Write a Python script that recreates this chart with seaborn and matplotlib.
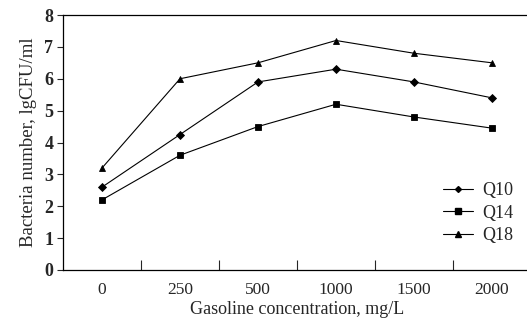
import numpy as np
import pandas as pd
import matplotlib
matplotlib.use("Agg")
import matplotlib.pyplot as plt
import seaborn as sns
from matplotlib.lines import Line2D

# data
concentrations = ["0", "250", "500", "1000", "1500", "2000"]
q10 = [2.6, 4.25, 5.9, 6.3, 5.9, 5.4]
q14 = [2.2, 3.6, 4.5, 5.2, 4.8, 4.45]
q18 = [3.2, 6.0, 6.5, 7.2, 6.8, 6.5]
series_names = ["Q10", "Q14", "Q18"]

df = pd.DataFrame({
    "conc": concentrations * 3,
    "value": q10 + q14 + q18,
    "strain": [s for s in series_names for _ in concentrations],
})

sns.set_style("ticks")
plt.rcParams["font.family"] = ["Liberation Serif", "DejaVu Serif"]

fig = plt.figure(figsize=(5.27, 3.22), dpi=100)
ax = fig.add_axes([63 / 527, 52 / 322, 468 / 527, 255 / 322])

markers = ["D", "s", "^"]
sizes = [4, 5.5, 5.5]
sns.pointplot(
    data=df, x="conc", y="value", hue="strain", order=concentrations,
    hue_order=series_names, palette=["black"] * 3, markers=markers,
    linestyles=["-"] * 3, linewidth=0.8, markersize=5, ax=ax, legend=False,
)
for line, ms in zip(ax.lines, sizes):
    line.set_markersize(ms)

ax.set_xlim(-0.5, 5.5)
ax.set_ylim(0, 8)
ax.set_yticks(range(0, 9))
ax.set_xticks(range(6))
ax.set_xticklabels(concentrations)
ax.tick_params(axis="x", length=0, labelsize=12.5, pad=9)
ax.tick_params(axis="y", length=4, width=0.8, labelsize=13, direction="out", pad=3)
for lab in ax.get_yticklabels():
    lab.set_fontweight("bold")

# inward ticks between categories on the x axis
ax.set_xticks(np.arange(0.5, 5.5, 1), minor=True)
ax.tick_params(axis="x", which="minor", length=7, width=0.8, direction="in")

for side in ["left", "bottom", "top", "right"]:
    ax.spines[side].set_linewidth(0.9)
    ax.spines[side].set_color("black")

ax.set_xlabel("Gasoline concentration, mg/L", fontsize=13, labelpad=2)
ax.set_ylabel("Bacteria number, lgCFU/ml", fontsize=13.5, labelpad=5)

handles = [
    Line2D([], [], color="black", lw=0.8, marker=m, markersize=s - 1)
    for m, s in zip(markers, sizes)
]
ax.legend(handles, series_names, loc="center left", bbox_to_anchor=(0.812, 0.2235),
          frameon=False, fontsize=13, handlelength=1.65, labelspacing=0.3,
          handletextpad=0.5, borderpad=0, borderaxespad=0)

fig.savefig("out.png", dpi=100)
